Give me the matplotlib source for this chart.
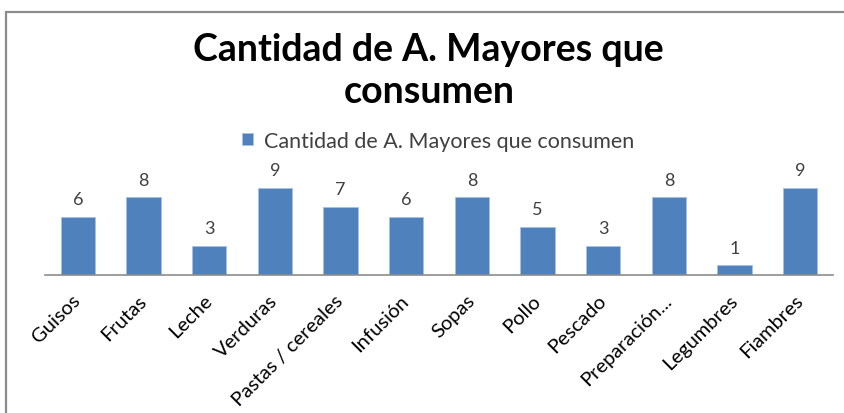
import matplotlib.pyplot as plt
from matplotlib.patches import Rectangle

categorias = ["Guisos", "Frutas", "Leche", "Verduras", "Pastas / cereales",
              "Infusión", "Sopas", "Pollo", "Pescado", "Preparación...",
              "Legumbres", "Fiambres"]
cantidad = [6, 8, 3, 9, 7, 6, 8, 5, 3, 8, 1, 9]
serie = "Cantidad de A. Mayores que consumen"

plt.rcParams['font.family'] = ['Lato', 'DejaVu Sans']

fig = plt.figure(figsize=(8.44, 4.14), dpi=100)

# marco gris del grafico (recortado a derecha y abajo)
fig.patches.append(Rectangle((6 / 844, -0.1), 1.2, 1.1 - 13 / 414,
                             transform=fig.transFigure, fill=False,
                             edgecolor='#8c8c8c', linewidth=1.6))

ax = fig.add_axes([45 / 844, 1 - 276 / 414, 788 / 844, 97 / 414])
x = range(len(categorias))
barras = ax.bar(x, cantidad, width=0.52, color='#4F81BD',
                edgecolor='#a9c1e0', linewidth=0.6, label=serie)
ax.bar_label(barras, padding=7, fontsize=13, color='#404040')

ax.set_xlim(-0.5, len(categorias) - 0.5)
ax.set_ylim(0, 10)
ax.set_yticks([])
for lado in ['top', 'right', 'left']:
    ax.spines[lado].set_visible(False)
ax.spines['bottom'].set_color('#8c8c8c')
ax.spines['bottom'].set_linewidth(1.2)

ax.set_xticks(list(x))
ax.set_xticklabels(categorias, rotation=45, ha='right', va='center',
                   rotation_mode='anchor', fontsize=14.5, color='black')
ax.tick_params(axis='x', length=0, pad=16)

fig.text(0.508, 1 - 71 / 414, "Cantidad de A. Mayores que\nconsumen",
         ha='center', va='center', fontsize=27, fontweight='bold',
         linespacing=1.3)

fig.legend(handles=[barras], labels=[serie], loc='center',
           bbox_to_anchor=(438 / 844, 1 - 142 / 414), frameon=False,
           fontsize=15.5, handlelength=0.5, handleheight=0.5,
           handletextpad=0.5, labelcolor='#404040')

fig.savefig("out.png", dpi=100)
